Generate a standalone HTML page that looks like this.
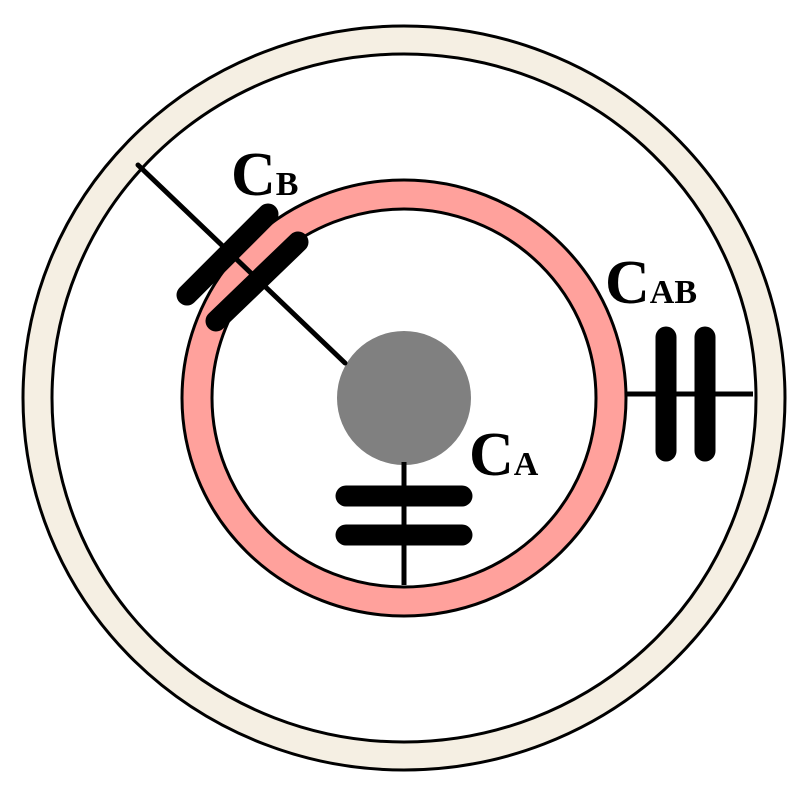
<!DOCTYPE html>
<html><head><style>
html,body{margin:0;padding:0;background:#fff;}
svg{display:block;}
text{font-family:"Liberation Serif",serif;font-weight:bold;fill:#000;}
</style></head><body>
<svg width="812" height="787" viewBox="0 0 812 787" xmlns="http://www.w3.org/2000/svg">
<ellipse cx="404" cy="398" rx="381" ry="372" fill="#f5efe3" stroke="#000" stroke-width="3"/>
<ellipse cx="404" cy="398" rx="352" ry="344" fill="#fff" stroke="#000" stroke-width="3"/>
<ellipse cx="404" cy="398" rx="222" ry="218" fill="#ffa19c" stroke="#000" stroke-width="3"/>
<ellipse cx="404" cy="398" rx="192" ry="189" fill="#fff" stroke="#000" stroke-width="3"/>
<circle cx="404" cy="398" r="67" fill="#808080"/>
<!-- CB -->
<line x1="138" y1="165" x2="345" y2="363" stroke="#000" stroke-width="5" stroke-linecap="round"/>
<line x1="187" y1="295" x2="268" y2="214" stroke="#000" stroke-width="21" stroke-linecap="round"/>
<line x1="216" y1="321" x2="298" y2="242" stroke="#000" stroke-width="21" stroke-linecap="round"/>
<!-- CA -->
<line x1="404" y1="462" x2="404" y2="585" stroke="#000" stroke-width="5"/>
<line x1="346" y1="496" x2="462" y2="496" stroke="#000" stroke-width="21" stroke-linecap="round"/>
<line x1="346" y1="535" x2="462" y2="535" stroke="#000" stroke-width="21" stroke-linecap="round"/>
<!-- CAB -->
<line x1="626" y1="394" x2="753" y2="394" stroke="#000" stroke-width="5"/>
<line x1="666" y1="337" x2="666" y2="451" stroke="#000" stroke-width="21" stroke-linecap="round"/>
<line x1="705" y1="337" x2="705" y2="451" stroke="#000" stroke-width="21" stroke-linecap="round"/>
<text x="231" y="195" font-size="62">C<tspan font-size="34">B</tspan></text>
<text x="605" y="303" font-size="62">C<tspan font-size="34">AB</tspan></text>
<text x="469" y="475" font-size="62">C<tspan font-size="34">A</tspan></text>
</svg>
</body></html>
